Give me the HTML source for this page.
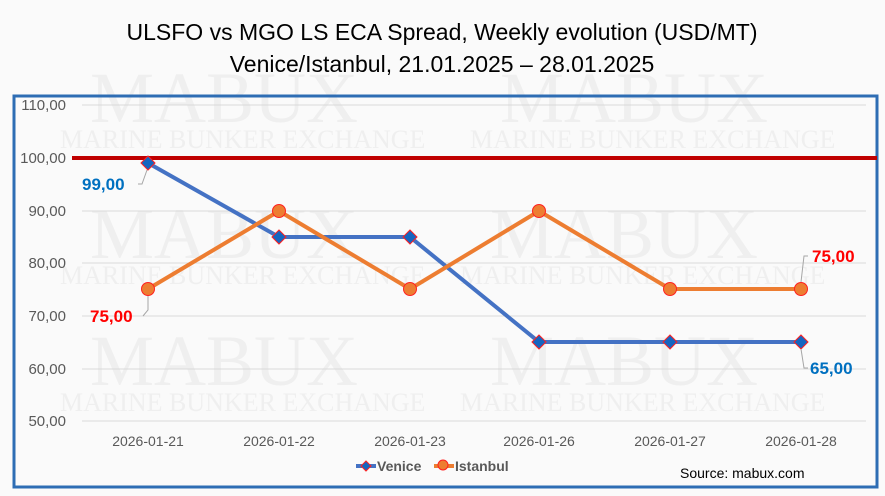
<!DOCTYPE html>
<html><head><meta charset="utf-8"><style>
body{margin:0;background:#fff;}
svg{display:block;font-family:"Liberation Sans",sans-serif;}
</style></head><body>
<svg width="885" height="496" viewBox="0 0 885 496">
<rect width="885" height="496" fill="#fafafa"/>
<g fill="#efefef" font-family="Liberation Serif,serif">
<text x="90" y="122" font-size="72">MABUX</text>
<text x="60" y="148" font-size="26">MARINE BUNKER EXCHANGE</text>
<text x="500" y="122" font-size="72">MABUX</text>
<text x="470" y="148" font-size="26">MARINE BUNKER EXCHANGE</text>
<text x="90" y="258" font-size="72">MABUX</text>
<text x="60" y="284" font-size="26">MARINE BUNKER EXCHANGE</text>
<text x="490" y="258" font-size="72">MABUX</text>
<text x="460" y="284" font-size="26">MARINE BUNKER EXCHANGE</text>
<text x="90" y="385" font-size="72">MABUX</text>
<text x="60" y="411" font-size="26">MARINE BUNKER EXCHANGE</text>
<text x="490" y="385" font-size="72">MABUX</text>
<text x="460" y="411" font-size="26">MARINE BUNKER EXCHANGE</text>
</g>
<text x="442" y="40" text-anchor="middle" font-size="23" fill="#000">ULSFO vs MGO LS ECA Spread, Weekly evolution (USD/MT)</text>
<text x="442" y="72" text-anchor="middle" font-size="23" fill="#000">Venice/Istanbul, 21.01.2025 – 28.01.2025</text>
<rect x="14" y="96" width="863" height="391" fill="none" stroke="#2e6db4" stroke-width="3"/>
<g stroke="#d9d9d9" stroke-width="1">
<line x1="82" x2="866" y1="105" y2="105"/><line x1="82" x2="866" y1="211" y2="211"/>
<line x1="82" x2="866" y1="263" y2="263"/><line x1="82" x2="866" y1="316" y2="316"/>
<line x1="82" x2="866" y1="369" y2="369"/><line x1="82" x2="866" y1="421" y2="421"/>
</g>
<g font-size="15" fill="#595959" text-anchor="end">
<text x="66" y="110">110,00</text><text x="66" y="163">100,00</text><text x="66" y="216">90,00</text>
<text x="66" y="268">80,00</text><text x="66" y="321">70,00</text><text x="66" y="374">60,00</text>
<text x="66" y="426">50,00</text>
</g>
<line x1="72" x2="877" y1="158" y2="158" stroke="#c00000" stroke-width="4"/>
<g font-size="14" fill="#595959" text-anchor="middle">
<text x="148" y="446">2026-01-21</text><text x="279" y="446">2026-01-22</text><text x="410" y="446">2026-01-23</text>
<text x="539" y="446">2026-01-26</text><text x="670" y="446">2026-01-27</text><text x="801" y="446">2026-01-28</text>
</g>
<polyline points="148,163 279,237 410,237 539,342 670,342 801,342" fill="none" stroke="#4472c4" stroke-width="4"/>
<polyline points="148,289 279,211 410,289 539,211 670,289 801,289" fill="none" stroke="#ed7d31" stroke-width="4"/>
<g fill="#1565c0" stroke="#ff2020" stroke-width="1">
<path d="M148 156l7 7-7 7-7-7z"/><path d="M279 230l7 7-7 7-7-7z"/><path d="M410 230l7 7-7 7-7-7z"/>
<path d="M539 335l7 7-7 7-7-7z"/><path d="M670 335l7 7-7 7-7-7z"/><path d="M801 335l7 7-7 7-7-7z"/>
</g>
<g fill="#ed7d31" stroke="#ff2020" stroke-width="1">
<circle cx="148" cy="289" r="6.5"/><circle cx="279" cy="211" r="6.5"/><circle cx="410" cy="289" r="6.5"/>
<circle cx="539" cy="211" r="6.5"/><circle cx="670" cy="289" r="6.5"/><circle cx="801" cy="289" r="6.5"/>
</g>
<g stroke="#a6a6a6" fill="none" stroke-width="1">
<polyline points="138,184 142,184 147,170"/><polyline points="143,316 148,310 148,296"/>
<polyline points="808,256 804,256 801,282"/><polyline points="808,368 804,368 801,349"/>
</g>
<g font-size="17" font-weight="bold">
<text x="82" y="190" fill="#0070c0">99,00</text>
<text x="90" y="322" fill="#ff0000">75,00</text>
<text x="812" y="262" fill="#ff0000">75,00</text>
<text x="810" y="374" fill="#0070c0">65,00</text>
</g>
<line x1="356" x2="376" y1="466" y2="466" stroke="#4472c4" stroke-width="4"/>
<path d="M366 461l5 5-5 5-5-5z" fill="#1565c0" stroke="#ff2020"/>
<text x="377" y="471" font-size="14" font-weight="bold" fill="#595959">Venice</text>
<line x1="434" x2="454" y1="466" y2="466" stroke="#ed7d31" stroke-width="4"/>
<circle cx="443" cy="465" r="5" fill="#ed7d31" stroke="#ff2020"/>
<text x="455" y="471" font-size="14" font-weight="bold" fill="#595959">Istanbul</text>
<text x="680" y="478" font-size="14" fill="#000">Source: mabux.com</text>
</svg>
</body></html>
